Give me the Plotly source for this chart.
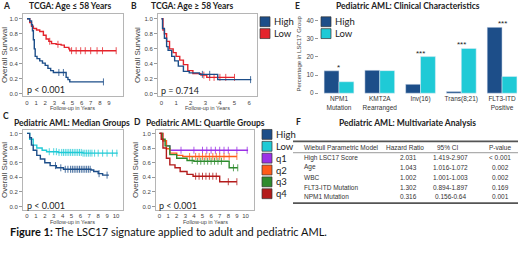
import plotly.graph_objects as go

W, H = 520, 259
def fx(p): return p / W
def fy(p): return 1 - p / H

NAVY = '#1d4e89'
CYAN = '#1fcad6'
RED = '#e4232b'
Q1C = '#9b30e6'
Q2C = '#ff5b1a'
Q3C = '#2e8b2e'
Q4C = '#b31b1b'

# ---------------- Panel A: TCGA age <= 58 ----------------
A_high_t = [0, 0.3, 0.5, 0.6, 0.7, 0.8, 0.9, 1.1, 1.4, 1.7, 2.0, 2.3, 2.6, 2.9, 4.3, 4.5, 4.7, 8.4]
A_high_s = [1.0, 0.97, 0.92, 0.84, 0.72, 0.6, 0.5, 0.47, 0.44, 0.41, 0.38, 0.34, 0.31, 0.285, 0.22, 0.19, 0.16, 0.16]
A_high_c = [3.5, 4.0, 8.4]
A_low_t = [0, 0.3, 0.5, 0.7, 1.05, 1.4, 1.8, 2.1, 2.4, 2.7, 3.2, 3.75, 4.1, 4.6, 4.7, 9.8]
A_low_s = [1.0, 0.95, 0.9, 0.87, 0.85, 0.83, 0.78, 0.73, 0.7, 0.67, 0.66, 0.65, 0.62, 0.6, 0.575, 0.575]
A_low_c = [2.5, 3.4, 4.9, 5.4, 5.9, 6.4, 7.0, 7.7, 8.3, 9.8]

# ---------------- Panel B: TCGA age >= 58 ----------------
B_high_t = [0, 0.07, 0.2, 0.35, 0.45, 0.7, 0.9, 1.15, 1.5, 1.9, 2.6, 3.85, 6.15]
B_high_s = [1.0, 0.87, 0.74, 0.63, 0.58, 0.5, 0.44, 0.37, 0.3, 0.28, 0.26, 0.19, 0.19]
B_high_c = [2.8, 3.3, 6.1]
B_low_t = [0, 0.1, 0.2, 0.35, 0.55, 0.8, 1.0, 1.25, 1.5, 1.8, 2.15, 2.7, 3.1, 5.0]
B_low_s = [1.0, 0.85, 0.8, 0.7, 0.6, 0.55, 0.5, 0.45, 0.39, 0.31, 0.27, 0.25, 0.22, 0.22]
B_low_c = [2.9, 3.3, 3.6, 4.0, 4.4, 5.0]

# ---------------- Panel C: pediatric median groups ----------------
C_high_t = [0, 0.3, 0.5, 0.7, 1.1, 1.5, 2.0, 2.6, 3.3, 4.1, 7.2, 7.5, 8.0, 8.5, 9.2]
C_high_s = [1.0, 0.94, 0.84, 0.77, 0.7, 0.65, 0.6, 0.56, 0.53, 0.51, 0.5, 0.48, 0.45, 0.43, 0.43]
C_high_c = [3.2, 3.8, 4.3, 4.6, 4.9, 5.1, 5.3, 5.5, 5.7, 5.9, 6.1, 6.3, 6.5, 6.7, 6.9, 7.1, 8.1, 9.0]
C_low_t = [0, 0.3, 0.7, 1.1, 1.7, 2.2, 3.5, 6.3, 10.2]
C_low_s = [1.0, 0.92, 0.84, 0.8, 0.77, 0.75, 0.74, 0.73, 0.73]
C_low_c = [2.5, 3.0, 3.3, 3.6, 3.9, 4.1, 4.3, 4.5, 4.7, 4.9, 5.1, 5.3, 5.5, 5.7, 5.9,
           6.1, 6.3, 6.5, 6.7, 6.9, 7.1, 7.3, 7.6, 8.0, 8.5, 9.0, 9.6, 10.1]

# ---------------- Panel D: pediatric quartile groups ----------------
D_q1_t = [0, 0.4, 0.8, 1.2, 10.3]
D_q1_s = [1.0, 0.9, 0.83, 0.77, 0.77]
D_q1_c = [2.5, 4.0, 5.0, 5.5, 6.0, 6.5, 7.0, 7.5, 8.0, 9.0, 10.2]
D_q2_t = [0, 0.4, 0.8, 1.2, 2.0, 2.7, 9.0]
D_q2_s = [1.0, 0.9, 0.79, 0.73, 0.7, 0.685, 0.685]
D_q2_c = [3.5, 4.2, 4.6, 5.0, 5.4, 5.8, 6.2, 6.6, 7.0, 7.5, 8.1, 9.0]
D_q3_t = [0, 0.3, 0.65, 1.2, 2.0, 3.2, 4.0, 8.1, 9.1]
D_q3_s = [1.0, 0.92, 0.83, 0.71, 0.66, 0.63, 0.62, 0.53, 0.53]
D_q3_c = [3.8, 4.4, 4.8, 5.2, 5.6, 6.0, 6.4, 6.8, 7.2, 8.6, 9.1]
D_q4_t = [0, 0.2, 0.4, 0.8, 1.2, 1.8, 2.4, 3.2, 3.9, 7.0, 9.0]
D_q4_s = [1.0, 0.92, 0.8, 0.66, 0.57, 0.53, 0.48, 0.44, 0.415, 0.34, 0.34]
D_q4_c = [4.2, 4.6, 5.0, 5.4, 5.8, 6.2, 6.6, 8.0, 9.0]

# ---------------- Panel E: clinical characteristics ----------------
E_categories = ['NPM1<br>Mutation', 'KMT2A<br>Rearranged', 'Inv(16)', 'Trans(8;21)', 'FLT3-ITD<br>Positive']
E_high = [12.3, 12.6, 4.9, 0.9, 36.2]
E_low = [6.3, 12.4, 20.1, 24.6, 9.2]
E_stars = ['*', '', '***', '***', '***']

# ---------------- Panel F: multivariate table ----------------
F_header = ['Wiebull Parametric Model', 'Hazard Ratio', '95% CI', 'P-value']
F_rows = ['High LSC17 Score', 'Age', 'WBC', 'FLT3-ITD Mutation', 'NPM1 Mutation']
F_hr = ['2.031', '1.043', '1.002', '1.302', '0.316']
F_ci = ['1.419-2.907', '1.016-1.072', '1.001-1.003', '0.894-1.897', '0.156-0.64']
F_p = ['< 0.001', '0.002', '0.002', '0.169', '0.001']

legend_AB = [('High', NAVY), ('Low', RED)]
legend_E = [('High', NAVY), ('Low', CYAN)]
legend_CD = [('High', NAVY), ('Low', CYAN), ('q1', Q1C), ('q2', Q2C), ('q3', Q3C), ('q4', Q4C)]

fig = go.Figure()

def step(t, s, c):
    v = s[0]
    for ti, si in zip(t, s):
        if ti <= c:
            v = si
    return v

def km(t, s, cens, color, xa, ya):
    fig.add_trace(go.Scatter(x=t, y=s, mode='lines', line=dict(shape='hv', color=color, width=1.4),
                             xaxis=xa, yaxis=ya, showlegend=False, hoverinfo='skip'))
    fig.add_trace(go.Scatter(x=cens, y=[step(t, s, c) for c in cens], mode='markers',
                             marker=dict(symbol='line-ns', size=5, line=dict(width=0.8, color=color)),
                             xaxis=xa, yaxis=ya, showlegend=False, hoverinfo='skip'))

km(A_low_t, A_low_s, A_low_c, RED, 'x', 'y')
km(A_high_t, A_high_s, A_high_c, NAVY, 'x', 'y')
km(B_low_t, B_low_s, B_low_c, RED, 'x2', 'y2')
km(B_high_t, B_high_s, B_high_c, NAVY, 'x2', 'y2')
km(C_low_t, C_low_s, C_low_c, CYAN, 'x3', 'y3')
km(C_high_t, C_high_s, C_high_c, NAVY, 'x3', 'y3')
km(D_q1_t, D_q1_s, D_q1_c, Q1C, 'x4', 'y4')
km(D_q2_t, D_q2_s, D_q2_c, Q2C, 'x4', 'y4')
km(D_q3_t, D_q3_s, D_q3_c, Q3C, 'x4', 'y4')
km(D_q4_t, D_q4_s, D_q4_c, Q4C, 'x4', 'y4')

fig.add_trace(go.Bar(x=E_categories, y=E_high, marker_color=NAVY, name='High',
                     xaxis='x5', yaxis='y5', showlegend=False, hoverinfo='skip'))
fig.add_trace(go.Bar(x=E_categories, y=E_low, marker_color=CYAN, name='Low',
                     xaxis='x5', yaxis='y5', showlegend=False, hoverinfo='skip'))

TICKF = dict(size=6, family='Liberation Sans, Arial', color='#444')
AXT = dict(size=5.5, family='Liberation Sans, Arial', color='#444')
YT = dict(size=8, family='Liberation Sans, Arial', color='#444')

def kmx(dom, rng, vals, anchor):
    return dict(domain=[fx(dom[0]), fx(dom[1])], range=rng, tickvals=vals, anchor=anchor,
                showline=True, mirror=True, linecolor='#b5b5b5', linewidth=1,
                ticks='', tickfont=TICKF, showgrid=False, zeroline=False)

def kmy(dom, rng, anchor):
    return dict(domain=[fy(dom[1]), fy(dom[0])], range=rng, anchor=anchor,
                tickvals=[0, 0.2, 0.4, 0.6, 0.8, 1.0], ticktext=['0.0', '0.2', '0.4', '0.6', '0.8', '1.0'],
                showline=True, mirror=True, linecolor='#b5b5b5', linewidth=1,
                ticks='outside', ticklen=3, tickcolor='#999', tickfont=TICKF,
                showgrid=False, zeroline=False,
                title=dict(text='Overall Survival', font=YT, standoff=2))

fig.update_layout(
    width=W, height=H, margin=dict(l=0, r=0, t=0, b=0),
    paper_bgcolor='white', plot_bgcolor='white', showlegend=False,
    barmode='group', bargap=0.27, bargroupgap=0,
    xaxis=kmx((23, 123), [-0.44, 10.55], list(range(0, 10)), 'y'),
    yaxis=kmy((14, 97.5), [-0.033, 1.066], 'x'),
    xaxis2=kmx((158, 257), [-0.24, 6.54], list(range(0, 7)), 'y2'),
    yaxis2=kmy((14, 97.5), [-0.033, 1.066], 'x2'),
    xaxis3=kmx((23, 123), [-0.45, 10.79], list(range(0, 11)), 'y3'),
    yaxis3=kmy((132, 212), [-0.04, 1.04], 'x3'),
    xaxis4=kmx((156, 254), [-0.41, 10.99], list(range(0, 11)), 'y4'),
    yaxis4=kmy((132, 212), [-0.04, 1.04], 'x4'),
    xaxis5=dict(domain=[fx(319), fx(520)], range=[-0.49, 4.44], anchor='y5', type='category',
                showline=False, ticks='', tickfont=dict(size=6.5, family='Liberation Sans, Arial', color='#333')),
    yaxis5=dict(domain=[fy(95), fy(14)], range=[-0.38, 43.6], anchor='x5', tickvals=[0, 10, 20, 30, 40],
                showline=False, showgrid=False, zeroline=False, ticks='outside', ticklen=3, tickcolor='#999',
                tickfont=dict(size=6.5, family='Liberation Sans, Arial', color='#444'),
                title=dict(text='Percentage in LSC17 Group', font=dict(size=6, family='Liberation Sans, Arial', color='#444'), standoff=4)),
)

ann = []
shapes = []
TITLEF = dict(size=8.5, family='Lato, Open Sans', color='#222')

def text(x, y, s, font, xanchor='center', **kw):
    ann.append(dict(x=fx(x), y=fy(y), xref='paper', yref='paper', text=s, showarrow=False,
                    font=font, xanchor=xanchor, yanchor='middle', **kw))

# panel labels and titles
for lab, x, y in [('A', 6, 6), ('B', 134, 6), ('C', 6, 117), ('D', 137, 123), ('E', 297, 6), ('F', 298, 123)]:
    text(x, y, '<b>%s</b>' % lab, TITLEF)
text(70, 6, '<b>TCGA: Age ≤ 58 Years</b>', TITLEF)
text(192, 6, '<b>TCGA: Age ≥ 58 Years</b>', TITLEF)
text(408, 6, '<b>Pediatric AML: Clinical Characteristics</b>', TITLEF)
text(72, 124, '<b>Pediatric AML: Median Groups</b>', TITLEF)
text(205, 124, '<b>Pediatric AML: Quartile Groups</b>', TITLEF)
text(407, 124, '<b>Pediatric AML: Multivariate Analysis</b>', TITLEF)

# x-axis titles
text(72, 109, 'Follow-up in Years', AXT)
text(207, 109, 'Follow-up in Years', AXT)
text(72, 224.5, 'Follow-up in Years', AXT)
text(205, 224.5, 'Follow-up in Years', AXT)

PF = dict(size=9, family='Lato, Open Sans', color='#222')
text(25, 91, 'p < 0.001', PF, xanchor='left')
text(159, 92, 'p = 0.714', PF, xanchor='left')
text(25, 208, 'p < 0.001', PF, xanchor='left')
text(157, 208, 'p < 0.001', PF, xanchor='left')

# stars above bars
for c, h, l, st in zip(E_categories, E_high, E_low, E_stars):
    if st:
        ann.append(dict(x=c, y=max(h, l), xref='x5', yref='y5', text=st, showarrow=False,
                        font=dict(size=8, family='Liberation Sans, Arial', color='#222'),
                        yanchor='bottom', yshift=-3))

# manual legends
LF = dict(size=9.5, family='Lato, Open Sans', color='#222')
def legend(items, x0, y0, dy):
    for i, (name, col) in enumerate(items):
        yc = y0 + i * dy
        shapes.append(dict(type='rect', xref='paper', yref='paper', x0=fx(x0), x1=fx(x0 + 10),
                           y0=fy(yc + 5), y1=fy(yc - 5), fillcolor=col, line=dict(color='#333', width=0.7)))
        text(x0 + 12, yc, name, LF, xanchor='left')

legend(legend_AB, 260, 22, 12)
legend(legend_E, 321, 22, 12)
legend(legend_CD, 262, 136, 12)

# table F
TF = dict(size=6.5, family='Liberation Sans, Arial', color='#333')
text(302, 149, F_header[0], TF, xanchor='left')
text(405, 149, F_header[1], TF)
text(448, 149, F_header[2], TF)
text(500, 149, F_header[3], TF)
for i, (r, hr, ci, p) in enumerate(zip(F_rows, F_hr, F_ci, F_p)):
    y = 159.5 + i * 9.9
    text(302, y, r, TF, xanchor='left')
    text(408, y, hr, TF)
    text(450, y, ci, TF)
    text(500, y, p, TF)
for y, w in [(143, 1.6), (154.5, 0.6), (205.5, 1.6)]:
    shapes.append(dict(type='line', xref='paper', yref='paper', x0=fx(293), x1=fx(518),
                       y0=fy(y), y1=fy(y), line=dict(color='#555', width=w)))

# caption
text(8, 234, '<b>Figure 1:</b> The LSC17 signature applied to adult and pediatric AML.',
     dict(size=11, family='Lato, Open Sans', color='#111'), xanchor='left')

fig.update_layout(annotations=ann, shapes=shapes)
fig.write_html('out.html', config={'displayModeBar': False},
               post_script="document.body.style.margin='0';document.body.style.overflow='hidden';")
